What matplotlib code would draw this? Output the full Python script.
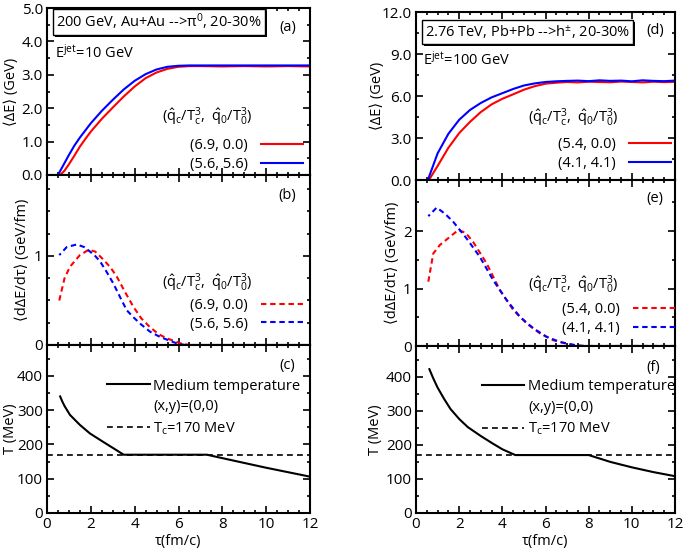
import numpy as np
import matplotlib
matplotlib.use("Agg")
import matplotlib.pyplot as plt
from matplotlib.lines import Line2D
from matplotlib.ticker import MultipleLocator, FormatStrFormatter
import matplotlib.patheffects as pe

plt.rcParams["font.family"] = ["Open Sans", "DejaVu Sans"]
plt.rcParams["mathtext.fontset"] = "custom"
plt.rcParams["mathtext.rm"] = "Open Sans"
plt.rcParams["mathtext.it"] = "Open Sans"
plt.rcParams["font.size"] = 10.5

# ---- RHIC, Au+Au (left column) ----
tau_a_red = [0.6, 0.8, 1.0, 1.25, 1.5, 1.75, 2.0, 2.5, 3.0, 3.5, 4.0, 4.5, 5.0, 5.5, 6.0, 6.5, 7.0, 8.0, 9.0, 10.0, 11.0, 12.0]
dE_a_red = [0.0, 0.13, 0.32, 0.58, 0.85, 1.08, 1.30, 1.68, 2.02, 2.35, 2.65, 2.90, 3.07, 3.18, 3.24, 3.26, 3.26, 3.25, 3.26, 3.25, 3.26, 3.25]
tau_a_blue = [0.5, 0.75, 1.0, 1.25, 1.5, 2.0, 2.5, 3.0, 3.5, 4.0, 4.5, 5.0, 5.5, 6.0, 6.5, 7.0, 8.0, 9.0, 10.0, 11.0, 12.0]
dE_a_blue = [0.0, 0.30, 0.60, 0.88, 1.12, 1.55, 1.92, 2.25, 2.56, 2.82, 3.02, 3.16, 3.24, 3.27, 3.28, 3.28, 3.28, 3.28, 3.28, 3.28, 3.28]

tau_b_red = [0.56, 0.8, 1.05, 1.5, 1.9, 2.2, 2.57, 2.9, 3.18, 3.55, 3.94, 4.3, 4.7, 5.1, 5.47, 6.07, 6.5, 12.0]
rate_b_red = [0.50, 0.75, 0.88, 1.01, 1.07, 1.05, 0.96, 0.87, 0.77, 0.60, 0.43, 0.30, 0.20, 0.12, 0.075, 0.02, 0.0, 0.0]
tau_b_blue = [0.56, 0.9, 1.36, 1.7, 1.96, 2.2, 2.42, 2.7, 3.03, 3.35, 3.64, 3.95, 4.25, 4.7, 5.16, 5.9, 6.3, 12.0]
rate_b_blue = [1.01, 1.10, 1.13, 1.10, 1.05, 1.00, 0.94, 0.83, 0.69, 0.53, 0.39, 0.31, 0.24, 0.15, 0.09, 0.02, 0.0, 0.0]

tau_c = [0.6, 0.7, 0.8, 1.05, 1.5, 1.96, 2.5, 3.0, 3.5, 7.3, 8.0, 9.0, 10.0, 11.0, 12.0]
T_c_curve = [340, 325, 312, 286, 257, 232, 210, 190, 170, 170, 160, 146, 132, 119, 106]

# ---- LHC, Pb+Pb (right column) ----
tau_d_red = [0.6, 1.0, 1.5, 2.0, 2.5, 3.0, 3.5, 4.0, 4.5, 5.0, 5.5, 6.0, 6.5, 7.0, 7.5, 8.0, 8.5, 9.0, 9.5, 10.0, 10.5, 11.0, 11.5, 12.0]
dE_d_red = [0.0, 1.0, 2.3, 3.35, 4.15, 4.85, 5.4, 5.8, 6.12, 6.45, 6.7, 6.88, 6.95, 7.0, 6.97, 7.02, 7.0, 6.98, 7.03, 7.0, 6.97, 7.02, 6.99, 7.01]
tau_d_blue = [0.55, 1.0, 1.5, 2.0, 2.5, 3.0, 3.5, 4.0, 4.5, 5.0, 5.5, 6.0, 6.5, 7.0, 7.5, 8.0, 8.5, 9.0, 9.5, 10.0, 10.5, 11.0, 11.5, 12.0]
dE_d_blue = [0.0, 1.9, 3.3, 4.3, 5.0, 5.5, 5.9, 6.2, 6.5, 6.75, 6.9, 7.0, 7.05, 7.08, 7.1, 7.06, 7.12, 7.08, 7.1, 7.05, 7.12, 7.08, 7.06, 7.1]

tau_e_red = [0.57, 0.8, 1.11, 1.57, 1.96, 2.3, 2.65, 3.27, 3.89, 4.5, 5.13, 5.74, 6.36, 7.1, 7.6, 12.0]
rate_e_red = [1.12, 1.61, 1.76, 1.90, 2.02, 1.97, 1.81, 1.44, 0.97, 0.63, 0.39, 0.22, 0.10, 0.03, 0.0, 0.0]
tau_e_blue = [0.57, 0.96, 1.35, 1.73, 2.35, 2.96, 3.57, 4.2, 4.81, 5.43, 6.05, 6.67, 7.3, 7.8, 12.0]
rate_e_blue = [2.26, 2.41, 2.30, 2.16, 1.87, 1.55, 1.15, 0.80, 0.51, 0.31, 0.16, 0.07, 0.02, 0.0, 0.0]

tau_f = [0.62, 0.8, 1.0, 1.3, 1.6, 2.0, 2.4, 3.0, 3.5, 4.0, 4.6, 8.0, 9.0, 10.0, 11.0, 12.0]
T_f_curve = [422, 395, 368, 335, 305, 276, 252, 226, 206, 187, 170, 170, 150, 134, 120, 108]

T_crit = 170
legend_labels_left = ["(6.9, 0.0)", "(5.6, 5.6)"]
legend_labels_right = ["(5.4, 0.0)", "(4.1, 4.1)"]
qhat_title = r"$(\hat{\mathrm{q}}_\mathrm{c}/\mathrm{T}_\mathrm{c}^3,\ \hat{\mathrm{q}}_0/\mathrm{T}_0^3)$"

RED = "#ff0000"
BLUE = "#0000ff"

fig = plt.figure(figsize=(6.85, 5.53), dpi=100)
W, H = 685.0, 553.0


def add_axes(x0, x1, y0, y1):
    return fig.add_axes([x0 / W, 1 - y1 / H, (x1 - x0) / W, (y1 - y0) / H])


def style(ax, ymax, ymaj, ymin, fmt, xlabels=False):
    ax.set_xlim(0, 12)
    ax.set_ylim(0, ymax)
    ax.xaxis.set_major_locator(MultipleLocator(2))
    ax.xaxis.set_minor_locator(MultipleLocator(0.5))
    ax.yaxis.set_major_locator(MultipleLocator(ymaj))
    ax.yaxis.set_minor_locator(MultipleLocator(ymin))
    ax.yaxis.set_major_formatter(FormatStrFormatter(fmt))
    ax.tick_params(which="both", direction="in", top=True, right=True, width=1.2)
    ax.tick_params(which="major", length=5, labelsize=11, pad=3)
    ax.tick_params(which="minor", length=2.5)
    for s in ax.spines.values():
        s.set_linewidth(1.5)
    if not xlabels:
        ax.tick_params(axis="x", labelbottom=False)
    else:
        ax.tick_params(axis="x", pad=3)
        ax.set_xlabel("τ(fm/c)", labelpad=1)


def boxed(ax, txt, x, y):
    t = ax.text(x, y, txt, transform=ax.transAxes, va="center", ha="left",
                bbox=dict(boxstyle="square,pad=0.2", fc="white", ec="black", lw=1.0))
    t.get_bbox_patch().set_path_effects(
        [pe.SimplePatchShadow(offset=(1.5, -1.5), shadow_rgbFace="black", alpha=1.0), pe.Normal()])


def dE_legend(ax, labels, ls, tx, ty, bx, by):
    ax.text(tx, ty, qhat_title, transform=ax.transAxes, ha="right", va="center")
    handles = [Line2D([], [], color=RED, lw=1.5, ls=ls), Line2D([], [], color=BLUE, lw=1.5, ls=ls)]
    ax.legend(handles, labels, loc="lower right", bbox_to_anchor=(bx, by), frameon=False,
              markerfirst=False, handlelength=2.9, handletextpad=0.9, labelspacing=0.25,
              borderaxespad=0, borderpad=0)


def temp_legend(ax, bx, by):
    handles = [Line2D([], [], color="black", lw=1.5),
               Line2D([], [], color="none"),
               Line2D([], [], color="black", lw=1.2, ls=(0, (3.5, 2.5)))]
    labels = ["Medium temperature", "(x,y)=(0,0)", r"T$_\mathrm{c}$=170 MeV"]
    ax.legend(handles, labels, loc="upper left", bbox_to_anchor=(bx, by), frameon=False,
              handlelength=2.9, handletextpad=0.25, labelspacing=0.4,
              borderaxespad=0, borderpad=0)


# ---------------- left column ----------------
ax_a = add_axes(47, 310, 8, 175)
ax_b = add_axes(47, 310, 175, 345)
ax_c = add_axes(47, 310, 345, 513)

ax_a.plot(tau_a_red, dE_a_red, color=RED, lw=1.5)
ax_a.plot(tau_a_blue, dE_a_blue, color=BLUE, lw=1.5)
style(ax_a, 5, 1, 0.5, "%.1f")
ax_a.set_ylabel("⟨ΔE⟩ (GeV)")
ax_a.yaxis.set_label_coords(-0.106, 0.5)
boxed(ax_a, r"200 GeV, Au+Au -->π$^0$, 20-30%", 0.035, 0.915)
ax_a.text(0.03, 0.73, r"E$^\mathrm{jet}$=10 GeV", transform=ax_a.transAxes, va="center")
ax_a.text(0.915, 0.885, "(a)", transform=ax_a.transAxes, ha="center", va="center")
dE_legend(ax_a, legend_labels_left, "-", 0.78, 0.347, 0.975, 0.02)

dash = (0, (2.6, 1.8))
ax_b.plot(tau_b_red, rate_b_red, color=RED, lw=1.5, ls=dash, clip_on=False, zorder=3)
ax_b.plot(tau_b_blue, rate_b_blue, color=BLUE, lw=1.5, ls=(1.5, (2.6, 1.8)), clip_on=False, zorder=3)
style(ax_b, 1.91, 1, 0.25, "%d")
ax_b.set_ylabel("⟨dΔE/dτ⟩ (GeV/fm)")
ax_b.yaxis.set_label_coords(-0.065, 0.5)
ax_b.text(0.915, 0.88, "(b)", transform=ax_b.transAxes, ha="center", va="center")
dE_legend(ax_b, legend_labels_left, dash, 0.78, 0.365, 0.975, 0.079)

ax_c.plot(tau_c, T_c_curve, color="black", lw=1.5)
ax_c.axhline(T_crit, color="black", lw=1.2, ls=(0, (3.5, 2.5)))
style(ax_c, 490, 100, 50, "%d", xlabels=True)
ax_c.set_ylabel("T (MeV)")
ax_c.yaxis.set_label_coords(-0.112, 0.5)
ax_c.text(0.915, 0.88, "(c)", transform=ax_c.transAxes, ha="center", va="center")
temp_legend(ax_c, 0.23, 0.80)

# ---------------- right column ----------------
ax_d = add_axes(416, 675, 12, 180)
ax_e = add_axes(416, 675, 180, 346)
ax_f = add_axes(416, 675, 346, 513)

ax_d.plot(tau_d_red, dE_d_red, color=RED, lw=1.5)
ax_d.plot(tau_d_blue, dE_d_blue, color=BLUE, lw=1.5)
style(ax_d, 12, 3, 1.5, "%.1f")
ax_d.set_ylabel("⟨ΔE⟩ (GeV)")
ax_d.yaxis.set_label_coords(-0.12, 0.5)
boxed(ax_d, r"2.76 TeV, Pb+Pb -->h$^{\pm}$, 20-30%", 0.035, 0.88)
ax_d.text(0.027, 0.714, r"E$^\mathrm{jet}$=100 GeV", transform=ax_d.transAxes, va="center")
ax_d.text(0.923, 0.887, "(d)", transform=ax_d.transAxes, ha="center", va="center")
dE_legend(ax_d, legend_labels_right, "-", 0.78, 0.37, 0.985, 0.054)

ax_e.plot(tau_e_red, rate_e_red, color=RED, lw=1.5, ls=dash, clip_on=False, zorder=3)
ax_e.plot(tau_e_blue, rate_e_blue, color=BLUE, lw=1.5, ls=(1.5, (2.6, 1.8)), clip_on=False, zorder=3)
style(ax_e, 2.89, 1, 0.5, "%d")
ax_e.set_ylabel("⟨dΔE/dτ⟩ (GeV/fm)")
ax_e.yaxis.set_label_coords(-0.062, 0.5)
ax_e.text(0.923, 0.89, "(e)", transform=ax_e.transAxes, ha="center", va="center")
dE_legend(ax_e, legend_labels_right, dash, 0.78, 0.367, 1.0, 0.06)

ax_f.plot(tau_f, T_f_curve, color="black", lw=1.5)
ax_f.axhline(T_crit, color="black", lw=1.2, ls=(0, (3.5, 2.5)))
style(ax_f, 490, 100, 50, "%d", xlabels=True)
ax_f.set_ylabel("T (MeV)")
ax_f.yaxis.set_label_coords(-0.127, 0.5)
ax_f.text(0.915, 0.874, "(f)", transform=ax_f.transAxes, ha="center", va="center")
temp_legend(ax_f, 0.255, 0.80)

fig.savefig("out.png", dpi=100)
